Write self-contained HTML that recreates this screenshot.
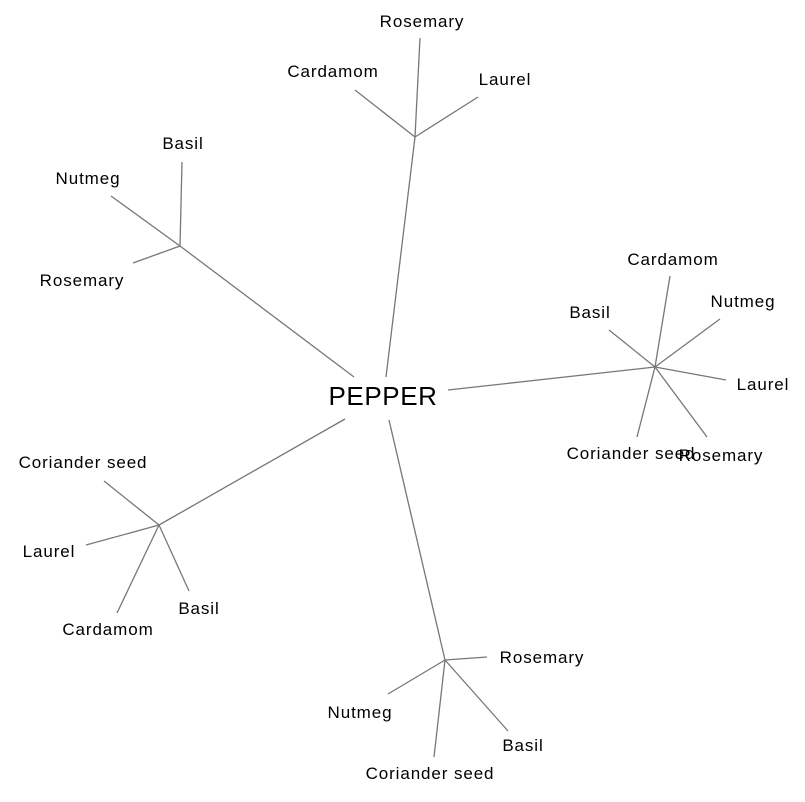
<!DOCTYPE html>
<html><head><meta charset="utf-8"><style>
html,body{margin:0;padding:0;background:#fff;}
svg text{font-family:"Liberation Sans",Arial,sans-serif;font-size:17px;letter-spacing:0.9px;fill:#000;text-anchor:middle;}
</style></head><body>
<svg width="805" height="797" viewBox="0 0 805 797" xmlns="http://www.w3.org/2000/svg">
<g stroke="#777" stroke-width="1.3" fill="none">
<line x1="386" y1="377" x2="415" y2="137"/>
<line x1="415" y1="137" x2="420" y2="38"/>
<line x1="415" y1="137" x2="355" y2="90"/>
<line x1="415" y1="137" x2="478" y2="97"/>
<line x1="354" y1="377" x2="180" y2="246"/>
<line x1="180" y1="246" x2="182" y2="162"/>
<line x1="180" y1="246" x2="111" y2="196"/>
<line x1="180" y1="246" x2="133" y2="263"/>
<line x1="448" y1="390" x2="655" y2="367"/>
<line x1="655" y1="367" x2="670" y2="276"/>
<line x1="655" y1="367" x2="720" y2="319"/>
<line x1="655" y1="367" x2="726" y2="380"/>
<line x1="655" y1="367" x2="707" y2="437"/>
<line x1="655" y1="367" x2="637" y2="437"/>
<line x1="655" y1="367" x2="609" y2="330"/>
<line x1="345" y1="419" x2="159" y2="525"/>
<line x1="159" y1="525" x2="104" y2="481"/>
<line x1="159" y1="525" x2="86" y2="545"/>
<line x1="159" y1="525" x2="117" y2="613"/>
<line x1="159" y1="525" x2="189" y2="591"/>
<line x1="389" y1="420" x2="445" y2="660"/>
<line x1="445" y1="660" x2="487" y2="657"/>
<line x1="445" y1="660" x2="388" y2="694"/>
<line x1="445" y1="660" x2="434" y2="757"/>
<line x1="445" y1="660" x2="508" y2="731"/>
</g>
<text x="383" y="405" style="font-size:26px;letter-spacing:0.6px">PEPPER</text>
<text x="422" y="27">Rosemary</text>
<text x="333" y="77">Cardamom</text>
<text x="505" y="85">Laurel</text>
<text x="183" y="149">Basil</text>
<text x="88" y="184">Nutmeg</text>
<text x="82" y="286">Rosemary</text>
<text x="673" y="265">Cardamom</text>
<text x="590" y="318">Basil</text>
<text x="743" y="307">Nutmeg</text>
<text x="763" y="390">Laurel</text>
<text x="721" y="461">Rosemary</text>
<text x="631" y="459">Coriander seed</text>
<text x="83" y="468">Coriander seed</text>
<text x="49" y="557">Laurel</text>
<text x="108" y="635">Cardamom</text>
<text x="199" y="614">Basil</text>
<text x="542" y="663">Rosemary</text>
<text x="360" y="718">Nutmeg</text>
<text x="523" y="751">Basil</text>
<text x="430" y="779">Coriander seed</text>
</svg>
</body></html>
